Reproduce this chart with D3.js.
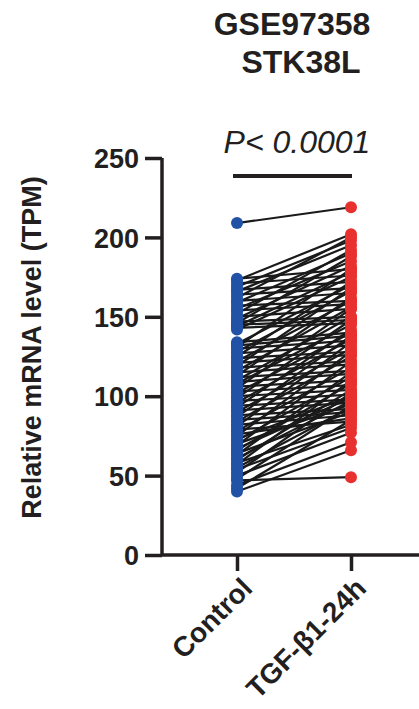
<!DOCTYPE html>
<html lang="en">
<head>
    <meta charset="UTF-8">
    <title>GSE97358 STK38L</title>
    <style>
        body {
            margin: 0;
            padding: 0;
            background: #fff;
        }
        svg text {
            font-family: 'Liberation Sans', Arial, sans-serif;
            fill: #231f20;
        }
    </style>
</head>
<body>
    <svg id="chart" width="419" height="709"></svg>

    <script src="https://cdn.jsdelivr.net/npm/d3@7"></script>
    <script>
        // categories
        const groups = ["Control", "TGF-β1-24h"];
        // paired values (TPM)
        const control = [209, 174, 173, 171, 169, 167, 166, 164, 162, 160, 159, 157, 155, 154, 152, 150,
            149, 147, 146, 145, 144, 143, 142, 134, 133, 132, 131, 130, 128, 127, 125, 124, 122, 121,
            119, 118, 116, 115, 113, 112, 110, 109, 108, 106, 105, 103, 102, 100, 99, 97, 96, 94, 93,
            91, 90, 88, 87, 85, 84, 82, 81, 79, 78, 76, 75, 73, 72, 70, 69, 67, 66, 64, 63, 61, 60,
            58, 57, 55, 54, 52, 50, 48, 47, 44, 42, 40];
        const tgf = [219, 180, 202, 176, 198, 172, 195, 168, 200, 165, 190, 160, 185, 158, 192, 155,
            182, 150, 188, 148, 178, 146, 175, 140, 170, 138, 180, 135, 166, 132, 172, 128, 160, 126,
            168, 122, 156, 120, 162, 116, 150, 114, 145, 110, 155, 107, 140, 104, 148, 101, 136, 98,
            142, 96, 130, 92, 138, 90, 125, 88, 134, 84, 118, 86, 128, 100, 112, 95, 122, 99, 108, 90,
            115, 97, 104, 82, 110, 93, 80, 102, 77, 94, 49, 71, 85, 66];
        const yTicks = [0, 50, 100, 150, 200, 250];
        const pLabel = "P< 0.0001";

        const svg = d3.select("#chart");

        const y = d3.scaleLinear().domain([0, 250]).range([555, 158]);
        const x = d3.scalePoint().domain(groups).range([237, 351]);

        const ink = "#231f20";

        // titulo
        svg.append("text").attr("x", 292).attr("y", 35).attr("text-anchor", "middle")
            .style("font-size", "32px").style("font-weight", "bold").text("GSE97358");
        svg.append("text").attr("x", 301).attr("y", 73).attr("text-anchor", "middle")
            .style("font-size", "32px").style("font-weight", "bold").text("STK38L");

        // eje Y
        const yAxis = svg.append("g")
            .attr("transform", "translate(162,0)")
            .call(d3.axisLeft(y).tickValues(yTicks).tickSize(17).tickPadding(6));
        yAxis.select(".domain").attr("stroke", ink).attr("stroke-width", 3.5)
            .attr("d", `M0,${y(250)}V${y(0)}`);
        yAxis.selectAll(".tick line").attr("stroke", ink).attr("stroke-width", 3.5);
        yAxis.selectAll(".tick text").style("font-size", "27px").style("font-weight", "bold")
            .attr("fill", ink).attr("dy", "0.36em");

        // eje X
        const xAxis = svg.append("g")
            .attr("transform", `translate(0,${y(0)})`)
            .call(d3.axisBottom(x).tickSize(16).tickFormat(""));
        xAxis.select(".domain").attr("stroke", ink).attr("stroke-width", 3.5)
            .attr("d", "M162,0H419");
        xAxis.selectAll(".tick line").attr("stroke", ink).attr("stroke-width", 3.5);

        svg.selectAll("text.xlab")
            .data(groups)
            .enter()
            .append("text")
            .attr("class", "xlab")
            .attr("text-anchor", "end")
            .attr("transform", d => `translate(${x(d) + 10},${y(0) + 28}) rotate(-45)`)
            .attr("dy", "0.35em")
            .style("font-size", "28px")
            .style("font-weight", "bold")
            .text(d => d);

        // etiqueta eje Y
        svg.append("text")
            .attr("transform", `translate(41,${(y(0) + y(250)) / 2 - 9}) rotate(-90)`)
            .attr("text-anchor", "middle")
            .style("font-size", "27px")
            .style("font-weight", "bold")
            .text("Relative mRNA level (TPM)");

        // pares
        const pairs = control.map((c, i) => ({ c: c, t: tgf[i] }));

        svg.append("g").selectAll("line")
            .data(pairs)
            .enter()
            .append("line")
            .attr("x1", x(groups[0]))
            .attr("y1", d => y(d.c))
            .attr("x2", x(groups[1]))
            .attr("y2", d => y(d.t))
            .attr("stroke", "#1a1a1a")
            .attr("stroke-width", 2.2);

        svg.append("g").selectAll("circle")
            .data(control)
            .enter()
            .append("circle")
            .attr("cx", x(groups[0]))
            .attr("cy", d => y(d))
            .attr("r", 6)
            .attr("fill", "#2152a6");

        svg.append("g").selectAll("circle")
            .data(tgf)
            .enter()
            .append("circle")
            .attr("cx", x(groups[1]))
            .attr("cy", d => y(d))
            .attr("r", 6)
            .attr("fill", "#e8312f");

        // significancia
        svg.append("line")
            .attr("x1", 233).attr("x2", 352)
            .attr("y1", 176).attr("y2", 176)
            .attr("stroke", ink).attr("stroke-width", 4);
        svg.append("text")
            .attr("x", 297).attr("y", 153)
            .attr("text-anchor", "middle")
            .style("font-size", "32px")
            .style("font-style", "italic")
            .text(pLabel);
    </script>
</body>
</html>
